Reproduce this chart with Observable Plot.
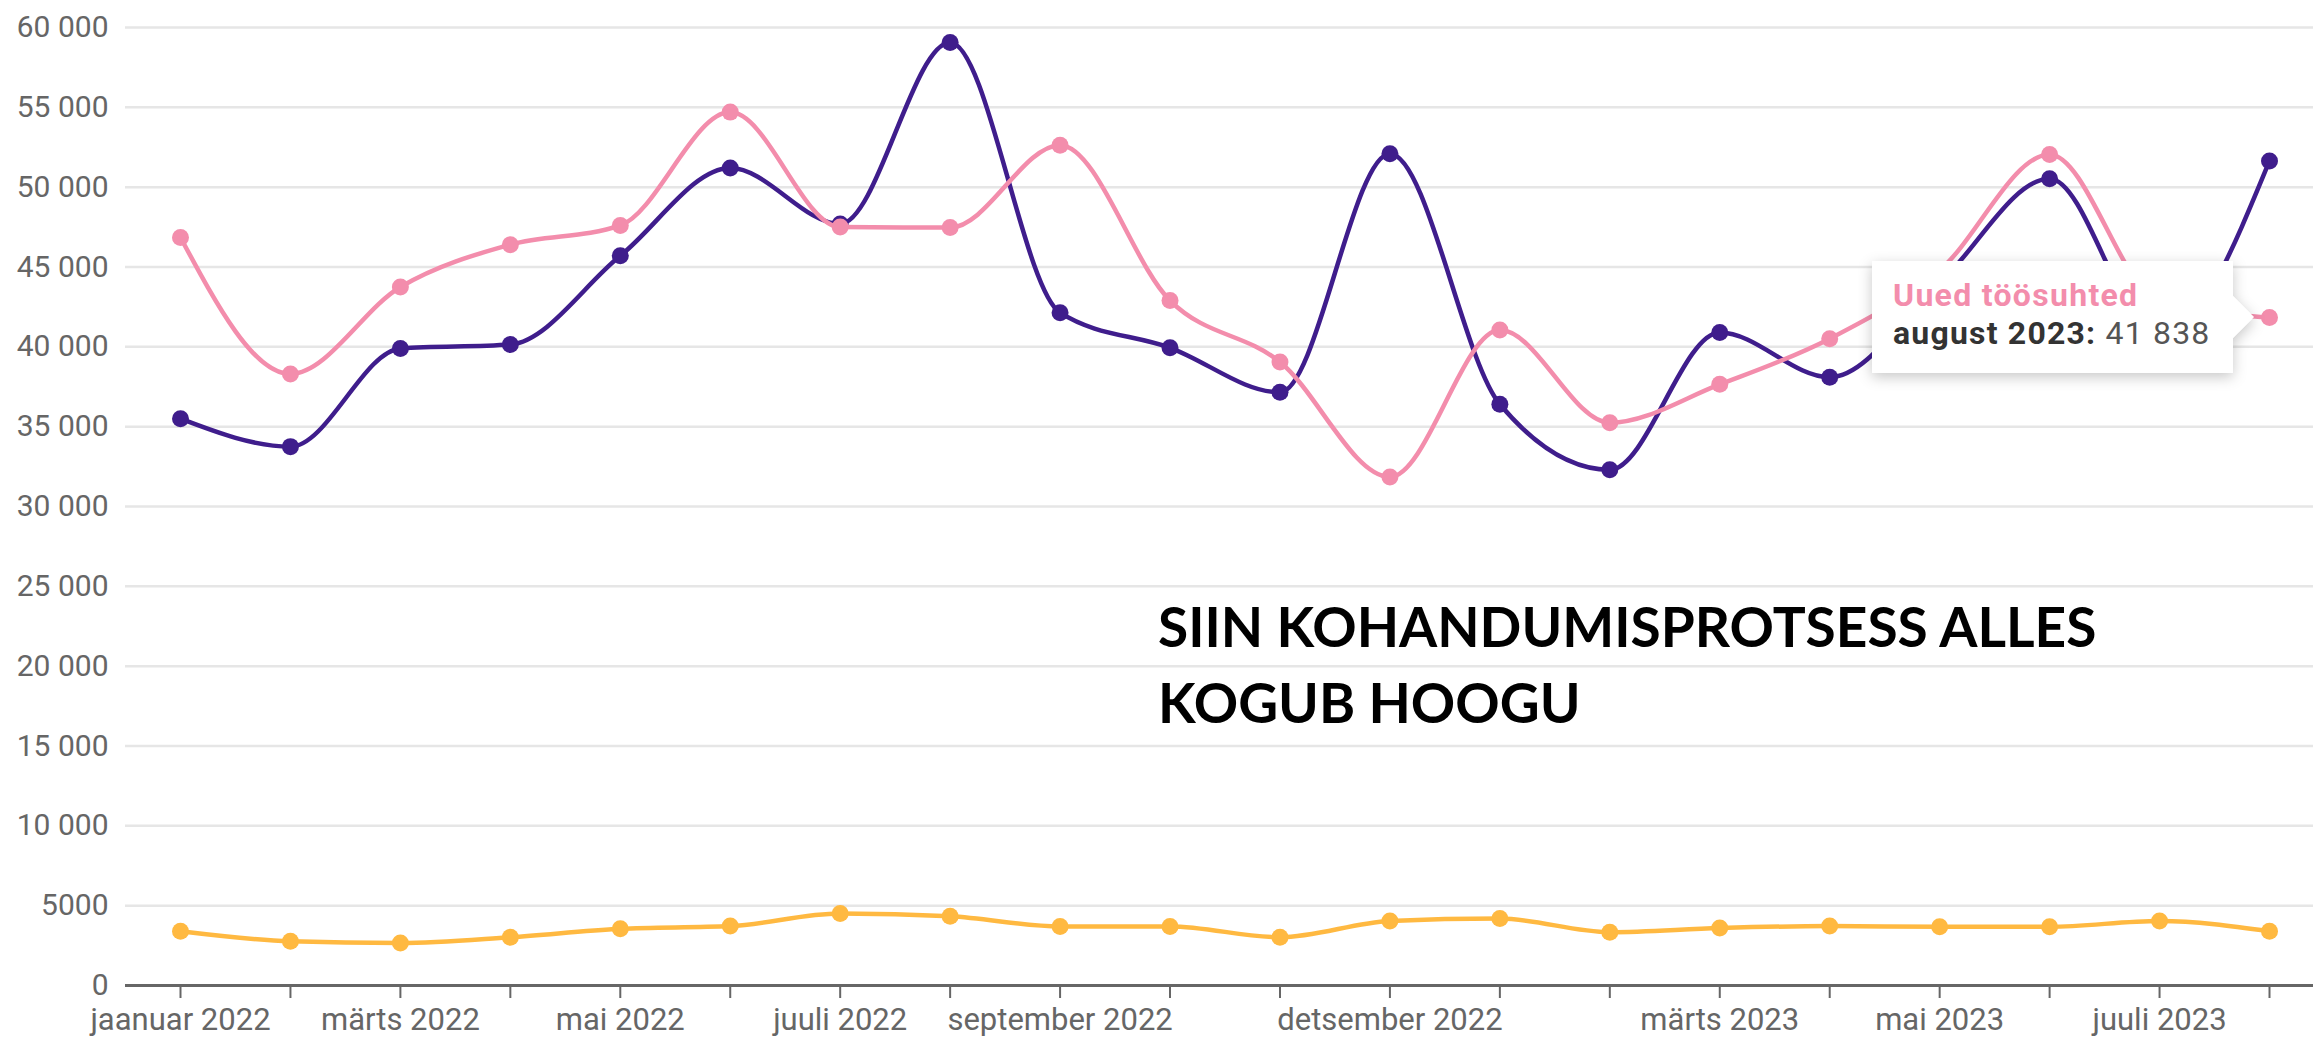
<!DOCTYPE html>
<html>
<head>
<meta charset="utf-8">
<script src="https://cdn.jsdelivr.net/npm/d3@7"></script>
<script src="https://cdn.jsdelivr.net/npm/@observablehq/plot@0.6"></script>
<style>
  html, body { margin: 0; padding: 0; background: #ffffff; overflow: hidden; }
  #chart svg { display: block; }
</style>
</head>
<body>
<div id="chart"></div>
<script>
// ---- Data ----
const months = ["jaanuar 2022","veebruar 2022","märts 2022","aprill 2022","mai 2022","juuni 2022","juuli 2022","august 2022","september 2022","oktoober 2022","november 2022","detsember 2022","jaanuar 2023","veebruar 2023","märts 2023","aprill 2023","mai 2023","juuni 2023","juuli 2023","august 2023"];
const labelledMonths = ["jaanuar 2022","märts 2022","mai 2022","juuli 2022","september 2022","detsember 2022","märts 2023","mai 2023","juuli 2023"];
const yTicks = [0, 5000, 10000, 15000, 20000, 25000, 30000, 35000, 40000, 45000, 50000, 55000, 60000];

const endedValues = [35500, 33750, 39900, 40150, 45700, 51200, 47700, 59060, 42140, 39940, 37150, 52100, 36400, 32300, 40900, 38100, 44000, 50530, 40500, 51640];
const newValues   = [46850, 38300, 43750, 46400, 47600, 54700, 47500, 47470, 52630, 42900, 39050, 31850, 41050, 35250, 37650, 40510, 44800, 52050, 42800, 41838];
const thirdValues = [3400, 2770, 2660, 3020, 3550, 3720, 4510, 4340, 3700, 3700, 3020, 4040, 4190, 3340, 3600, 3720, 3680, 3680, 4040, 3400];

const seriesNames = ["Koondamised", "Lõppenud töösuhted", "Uued töösuhted"];
const seriesColors = ["#ffb941", "#3f1d8c", "#f38dac"];

const annotationText = ["SIIN KOHANDUMISPROTSESS ALLES", "KOGUB HOOGU"];
const annotationAnchor = {month: "oktoober 2022", value: 24600};

const tooltipSeries = "Uued töösuhted";
const tooltipMonth = "august 2023";
const tooltipValue = 41838;

(function () {
  // ---- Tables built from the arrays ----
  const toRows = (vals, name) => months.map((m, i) => ({month: m, value: vals[i], series: name}));
  const thirdRows = toRows(thirdValues, seriesNames[0]);
  const endedRows = toRows(endedValues, seriesNames[1]);
  const newRows = toRows(newValues, seriesNames[2]);

  const fmtY = d => d >= 10000 ? d3.format(",")(d).replace(/,/g, " ") : String(d);
  const fmtVal = d => d3.format(",")(d).replace(/,/g, " ");
  const shown = new Set(labelledMonths);

  const lineOpts = (color) => ({x: "month", y: "value", stroke: color, strokeWidth: 4.5, curve: "monotone-x"});
  const dotOpts = (color) => ({x: "month", y: "value", fill: color, r: 8.5});

  const plot = Plot.plot({
    width: 2313,
    height: 1039,
    marginLeft: 125,
    marginRight: 0,
    marginTop: 27,
    marginBottom: 54,
    style: {fontFamily: "Roboto, sans-serif", fontSize: "30px", color: "#666", background: "#ffffff", overflow: "visible"},
    x: {type: "point", domain: months, padding: 0, round: false, insetLeft: 55, insetRight: 44, label: null},
    y: {domain: [0, 60000], label: null},
    marks: [
      Plot.gridY(yTicks, {stroke: "#e6e6e6", strokeOpacity: 1, strokeWidth: 2.5}),
      Plot.axisY(yTicks, {tickSize: 0, tickPadding: 17, tickFormat: fmtY, fill: "#666", fontSize: 30, label: null}),
      Plot.axisX(months, {tickSize: 13, tickPadding: 9, stroke: "#666", strokeWidth: 2, fill: "#666", fontSize: 31,
        tickFormat: d => shown.has(d) ? d : "", label: null}),
      Plot.ruleY([0], {stroke: "#666", strokeWidth: 3}),
      Plot.line(thirdRows, lineOpts(seriesColors[0])),
      Plot.dot(thirdRows, dotOpts(seriesColors[0])),
      Plot.line(endedRows, lineOpts(seriesColors[1])),
      Plot.dot(endedRows, dotOpts(seriesColors[1])),
      Plot.line(newRows, lineOpts(seriesColors[2])),
      Plot.dot(newRows, dotOpts(seriesColors[2])),
      Plot.text([annotationAnchor], {x: "month", y: "value", text: () => annotationText.join("\n"),
        textAnchor: "start", lineAnchor: "top", dx: -12, lineHeight: 1.38,
        fontFamily: "Lato, sans-serif", fontWeight: 700, fontSize: 55, fill: "#000"})
    ]
  });

  document.getElementById("chart").appendChild(plot);

  // ---- Tooltip positioned through the plot's own scales ----
  const sx = plot.scale("x"), sy = plot.scale("y");
  const px = sx.apply(tooltipMonth), py = sy.apply(tooltipValue);
  const svg = d3.select(plot);
  const defs = svg.append("defs");
  const filt = defs.append("filter").attr("id", "tipShadow").attr("x", "-20%").attr("y", "-40%").attr("width", "140%").attr("height", "180%");
  filt.append("feDropShadow").attr("dx", 0).attr("dy", 4).attr("stdDeviation", 7).attr("flood-color", "#000").attr("flood-opacity", 0.22);

  const boxW = 361, boxH = 112, gap = 36;
  const boxRight = px - gap, boxLeft = boxRight - boxW, boxTop = py - boxH / 2;
  const g = svg.append("g").attr("class", "tooltip").attr("text-anchor", "start");
  g.append("path")
    .attr("d", `M${boxLeft},${boxTop} H${boxRight} V${py - 21} L${px - 15},${py} L${boxRight},${py + 21} V${boxTop + boxH} H${boxLeft} Z`)
    .attr("fill", "#fff")
    .attr("filter", "url(#tipShadow)");
  g.append("text")
    .attr("x", boxLeft + 21).attr("y", py - 11)
    .attr("text-anchor", "start")
    .attr("font-family", "Roboto, sans-serif").attr("font-size", 32).attr("font-weight", 700)
    .attr("letter-spacing", "1.3px")
    .attr("fill", seriesColors[2])
    .text(tooltipSeries);
  const t2 = g.append("text")
    .attr("x", boxLeft + 21).attr("y", py + 27)
    .attr("text-anchor", "start")
    .attr("letter-spacing", "1.2px")
    .attr("font-family", "Roboto, sans-serif").attr("font-size", 32);
  t2.append("tspan").attr("font-weight", 700).attr("fill", "#333").text(tooltipMonth + ":");
  t2.append("tspan").attr("fill", "#555").text(" " + fmtVal(tooltipValue));
})();
</script>
</body>
</html>
